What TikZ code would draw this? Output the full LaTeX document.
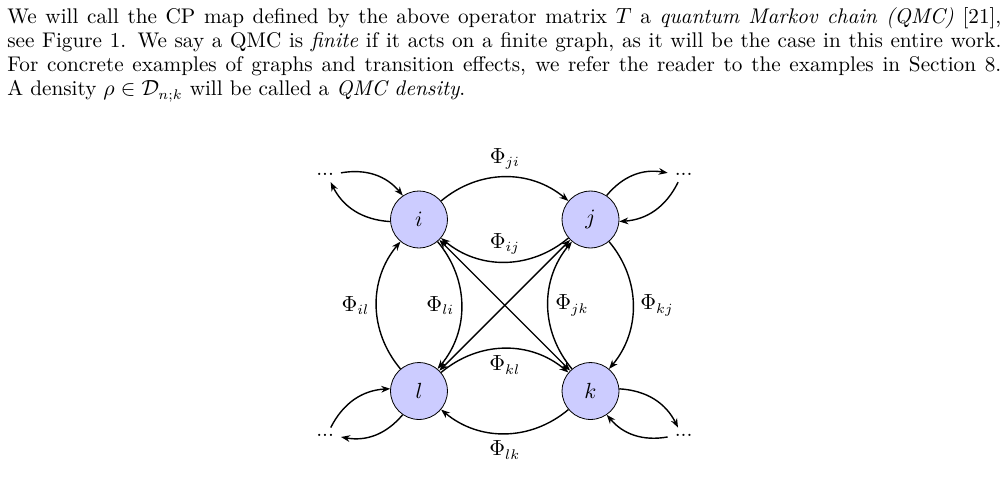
\documentclass[tikz,border=0pt]{standalone}
\usepackage{amsmath,amssymb}
\usepackage{tikz}
\usetikzlibrary{arrows.meta,positioning}

\begin{document}
\begin{tikzpicture}[
    font=\fontsize{10.6pt}{12pt}\selectfont,
    node distance=2cm and 2cm,
    vert/.style={circle, draw, fill=blue!20, minimum size=1cm, inner sep=0pt},
    arr/.style={-{Stealth[length=4.5pt]}, line width=0.7pt},
    darr/.style={{Stealth[length=4.5pt]}-{Stealth[length=4.5pt]}, line width=0.7pt}
  ]
    \useasboundingbox (-209.5pt,109.75pt) rectangle (294.5pt,-131.75pt);

    % text above the figure
    \node[anchor=north west, inner sep=0pt, text width=497pt, align=justify] (par) at (-206pt,106pt)
      {We will call the CP map defined by the above operator matrix $T$ a \emph{quantum Markov chain (QMC)} [21],\linebreak
       see Figure 1. We say a QMC is \emph{finite} if it acts on a finite graph, as it will be the case in this entire work.\linebreak
       For concrete examples of graphs and transition effects, we refer the reader to the examples in Section 8.\linebreak
       A density $\rho \in \mathcal{D}_{n;k}$ will be called a \emph{QMC density}.};

    \node[vert] (i) {$i$};
    \node[vert, right=of i] (j) {$j$};
    \node[vert, below=of i] (l) {$l$};
    \node[vert, below=of j] (k) {$k$};

    \node (di) at (-1.65,0.8) {...};
    \node (dj) at (4.65,0.8) {...};
    \node (dl) at (-1.65,-3.8) {...};
    \node (dk) at (4.65,-3.8) {...};

    \draw[arr] (i) to[bend left=40] node[above] {$\Phi_{ji}$} (j);
    \draw[arr] (j) to[bend left=40] node[above] {$\Phi_{ij}$} (i);
    \draw[arr] (l) to[bend left=40] node[left] {$\Phi_{il}$} (i);
    \draw[arr] (i) to[bend left=40] node[left] {$\Phi_{li}$} (l);
    \draw[arr] (k) to[bend left=40] node[right] {$\Phi_{jk}$} (j);
    \draw[arr] (j) to[bend left=40] node[right] {$\Phi_{kj}$} (k);
    \draw[arr] (l) to[bend left=40] node[below] {$\Phi_{kl}$} (k);
    \draw[arr] (k) to[bend left=40] node[below] {$\Phi_{lk}$} (l);
    \draw[darr] (i) -- (k);
    \draw[darr] (j) -- (l);

    % edges to the rest of the graph
    \draw[arr] (di) to[bend left] (i);
    \draw[arr] (i) to[bend left] (di);
    \draw[arr] (j) to[bend left] (dj);
    \draw[arr] (dj) to[bend left] (j);
    \draw[arr] (dl) to[bend left] (l);
    \draw[arr] (l) to[bend left] (dl);
    \draw[arr] (k) to[bend left] (dk);
    \draw[arr] (dk) to[bend left] (k);
  \end{tikzpicture}
\end{document}
